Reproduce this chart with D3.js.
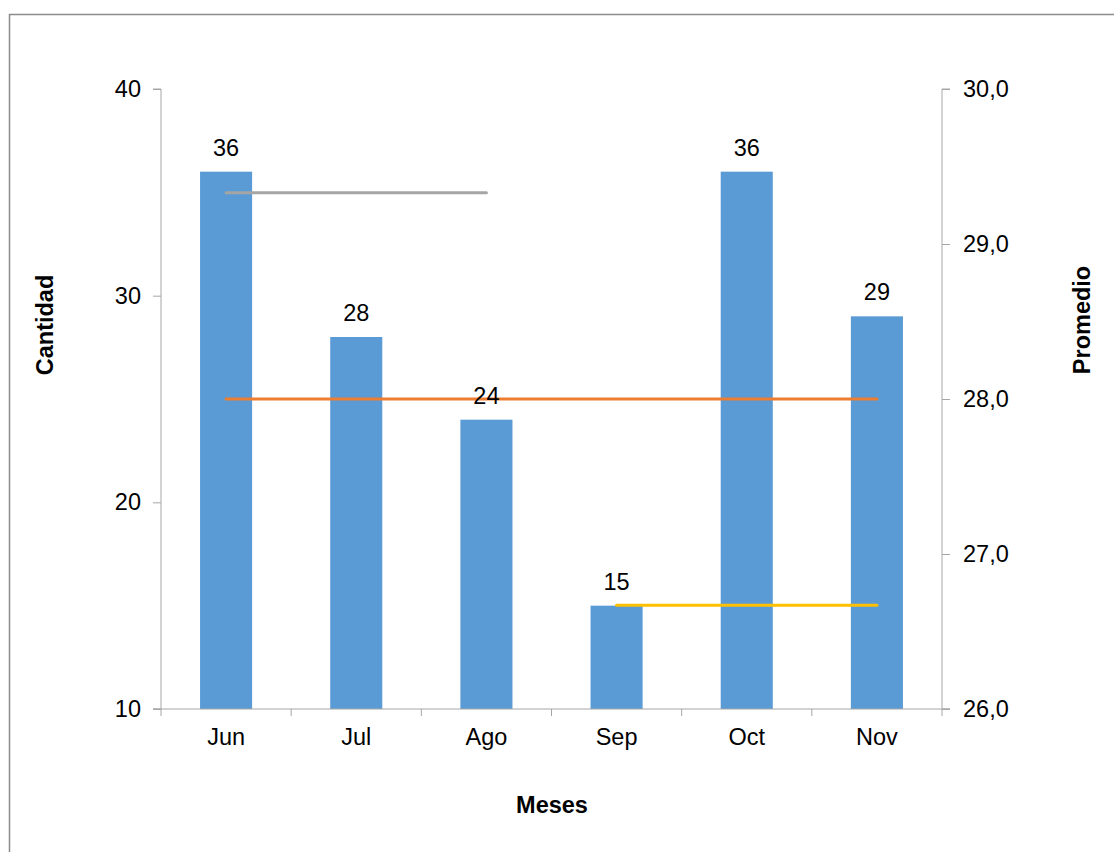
<!DOCTYPE html>
<html>
<head>
<meta charset="utf-8">
<script src="https://cdn.jsdelivr.net/npm/d3@7"></script>
<style>
  html, body { margin: 0; padding: 0; background: #fff; }
  svg { display: block; font-family: "Liberation Sans", Arial, sans-serif; }
</style>
</head>
<body>
<svg id="chart" width="1114" height="852"></svg>
<script>
// Monthly counts
const months = ["Jun", "Jul", "Ago", "Sep", "Oct", "Nov"];
const counts = [36, 28, 24, 15, 36, 29];

// Averages (right axis): first three months, all months, last three months
const avgFirst = { from: "Jun", to: "Ago", value: 29.33 };
const avgAll   = { from: "Jun", to: "Nov", value: 28.0 };
const avgLast  = { from: "Sep", to: "Nov", value: 26.67 };

const leftTicks = [10, 20, 30, 40];
const rightTicks = [26, 27, 28, 29, 30];

const svg = d3.select("#chart");
const plotLeft = 161, plotRight = 942, plotTop = 89, plotBottom = 709;
const axisColor = "#a6a6a6";
const fontSize = 23.5;

// outer frame
svg.append("rect")
  .attr("x", 9.5).attr("y", 14.5)
  .attr("width", 1300).attr("height", 1000)
  .attr("fill", "none").attr("stroke", "#8c8c8c").attr("stroke-width", 1.5);

const x = d3.scaleBand().domain(months).range([plotLeft, plotRight]).paddingInner(0.6).paddingOuter(0.3);
const xBand = d3.scaleBand().domain(months).range([plotLeft, plotRight]);
const yL = d3.scaleLinear().domain([10, 40]).range([plotBottom, plotTop]);
const yR = d3.scaleLinear().domain([26, 30]).range([plotBottom, plotTop]);

// bars
svg.append("g").selectAll("rect")
  .data(months.map((m, i) => ({ m, v: counts[i] })))
  .join("rect")
  .attr("x", d => x(d.m))
  .attr("y", d => yL(d.v))
  .attr("width", x.bandwidth())
  .attr("height", d => yL(10) - yL(d.v))
  .attr("fill", "#5b9bd5");

// left axis
const gL = svg.append("g").attr("transform", `translate(${plotLeft},0)`)
  .call(d3.axisLeft(yL).tickValues(leftTicks).tickSize(8).tickPadding(12).tickFormat(d3.format("d")));
// right axis
const gR = svg.append("g").attr("transform", `translate(${plotRight},0)`)
  .call(d3.axisRight(yR).tickValues(rightTicks).tickSize(8).tickPadding(13)
    .tickFormat(d => d3.format(".1f")(d).replace(".", ",")));
// bottom axis: ticks at category boundaries
const gB = svg.append("g").attr("transform", `translate(0,${plotBottom})`)
  .call(d3.axisBottom(xBand).tickSize(0).tickPadding(19));
const boundaries = months.map(m => xBand(m)).concat([plotRight]);
gB.selectAll("line.bound").data(boundaries).join("line")
  .attr("class", "bound")
  .attr("x1", d => d).attr("x2", d => d).attr("y1", 0).attr("y2", 7)
  .attr("stroke", axisColor);

[gL, gR, gB].forEach(g => {
  g.select(".domain").attr("stroke", axisColor).attr("stroke-width", 1);
  g.selectAll(".tick line").attr("stroke", axisColor);
  g.selectAll("text").attr("font-size", fontSize).attr("fill", "#000")
    .attr("font-family", "Liberation Sans, Arial, sans-serif");
});
gL.select(".domain").attr("d", `M-8,${plotTop}H0V${plotBottom}H-8`);
gR.select(".domain").attr("d", `M8,${plotTop}H0V${plotBottom}H8`);
gB.select(".domain").attr("d", `M${plotLeft - 8},0H${plotRight + 8}`);

// average lines
const cx = m => x(m) + x.bandwidth() / 2;
const lines = [
  { d: avgFirst, color: "#a5a5a5" },
  { d: avgAll, color: "#ed7d31" },
  { d: avgLast, color: "#ffc000" }
];
svg.append("g").selectAll("line")
  .data(lines).join("line")
  .attr("x1", l => cx(l.d.from)).attr("x2", l => cx(l.d.to))
  .attr("y1", l => yR(l.d.value)).attr("y2", l => yR(l.d.value))
  .attr("stroke", l => l.color).attr("stroke-width", 3).attr("stroke-linecap", "round");

// value labels
svg.append("g").selectAll("text")
  .data(months.map((m, i) => ({ m, v: counts[i] })))
  .join("text")
  .attr("x", d => cx(d.m))
  .attr("y", d => yL(d.v) - 16)
  .attr("text-anchor", "middle")
  .attr("font-size", fontSize)
  .text(d => d.v);

// axis titles
svg.append("text")
  .attr("x", 552).attr("y", 813)
  .attr("text-anchor", "middle").attr("font-size", fontSize).attr("font-weight", "bold")
  .text("Meses");
svg.append("text")
  .attr("transform", "translate(53,325) rotate(-90)")
  .attr("text-anchor", "middle").attr("font-size", fontSize).attr("font-weight", "bold")
  .text("Cantidad");
svg.append("text")
  .attr("transform", "translate(1090,320) rotate(-90)")
  .attr("text-anchor", "middle").attr("font-size", fontSize).attr("font-weight", "bold")
  .text("Promedio");
</script>
</body>
</html>
